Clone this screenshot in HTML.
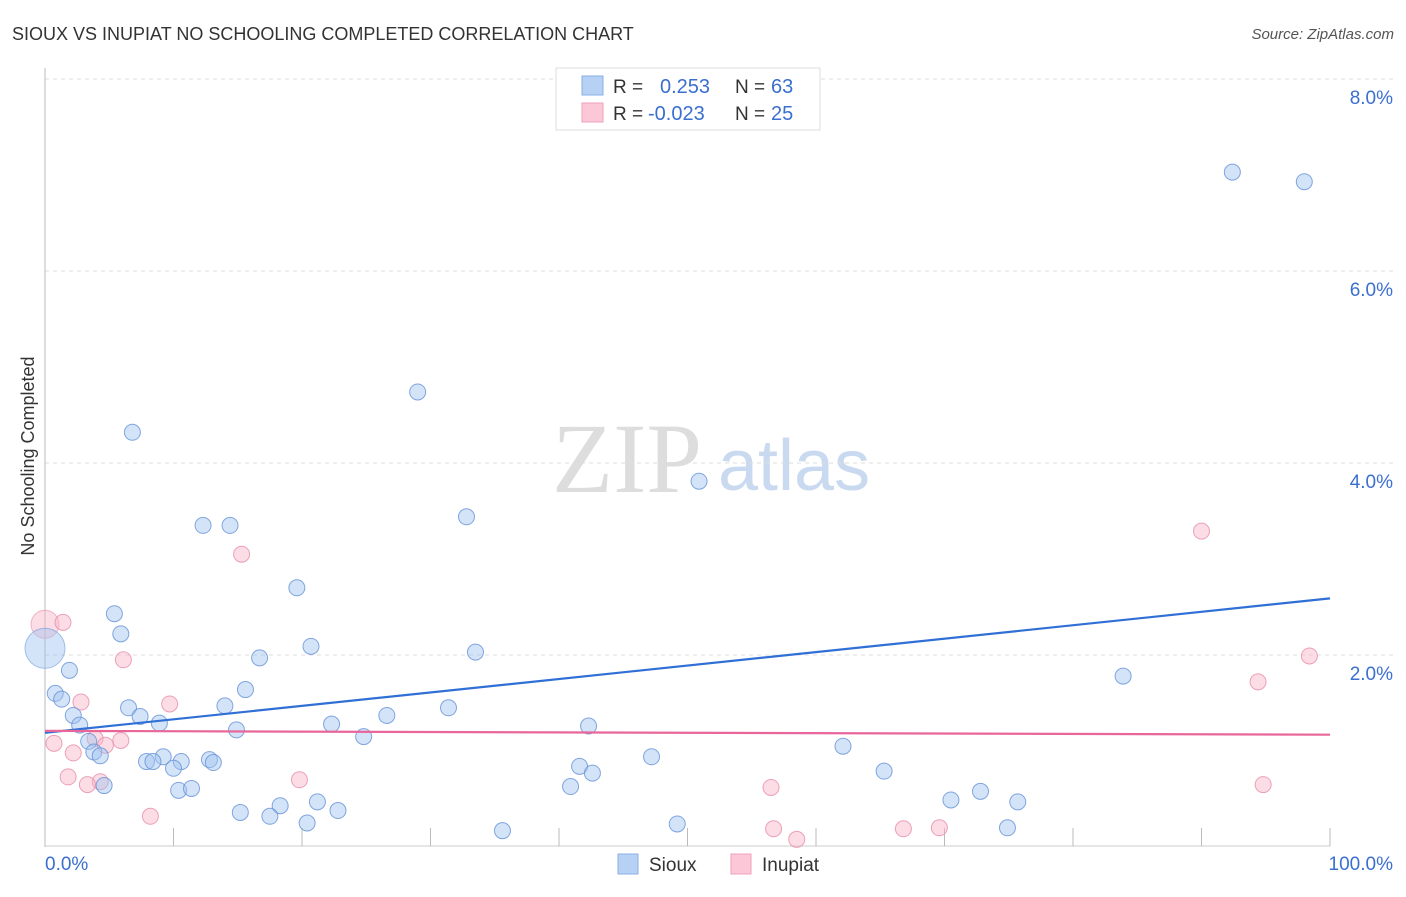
<!DOCTYPE html>
<html><head><meta charset="utf-8"><style>
body{margin:0;background:#fff;font-family:"Liberation Sans",sans-serif;}
svg text{font-family:"Liberation Sans",sans-serif;}
</style></head><body>
<svg id="chart" width="1406" height="892" xmlns="http://www.w3.org/2000/svg">
<text x="12" y="40" font-size="18" fill="#333">SIOUX VS INUPIAT NO SCHOOLING COMPLETED CORRELATION CHART</text>
<text x="1394" y="39" font-size="15" fill="#555" font-style="italic" text-anchor="end">Source: ZipAtlas.com</text>
<text transform="translate(34,456) rotate(-90)" font-size="18" fill="#333" text-anchor="middle">No Schooling Completed</text>
<g><text x="552" y="492" font-size="100" style="font-family:'Liberation Serif',serif" fill="#ddd">ZIP</text><text x="718" y="490" font-size="72" fill="#c9daf0">atlas</text></g>
<g id="grid"></g><g id="axes"></g><g id="pts"></g><g id="lines"></g>
<g>
<rect x="556" y="68" width="264" height="62" fill="#fff" stroke="#ddd"/>
<rect x="582" y="76" width="21" height="19" fill="#b7d1f5" stroke="#88aee6"/>
<rect x="582" y="103" width="21" height="19" fill="#fcc8d8" stroke="#f0a0b8"/>
<text x="613" y="93" font-size="19" fill="#333">R =</text><text x="660" y="93" font-size="20" fill="#3a6fd0">0.253</text>
<text x="735" y="93" font-size="19" fill="#333">N =</text><text x="771" y="93" font-size="20" fill="#3a6fd0">63</text>
<text x="613" y="120" font-size="19" fill="#333">R =</text><text x="648" y="120" font-size="20" fill="#3a6fd0">-0.023</text>
<text x="735" y="120" font-size="19" fill="#333">N =</text><text x="771" y="120" font-size="20" fill="#3a6fd0">25</text>
</g>
<g>
<rect x="618" y="854" width="20" height="20" fill="#b7d1f5" stroke="#88aee6"/><text x="649" y="871" font-size="19" fill="#333">Sioux</text>
<rect x="731" y="854" width="20" height="20" fill="#fcc8d8" stroke="#f0a0b8"/><text x="762" y="871" font-size="19" fill="#333">Inupiat</text>
</g>
</svg>
<script>
const siouxX=[92.4,98.0,29.0,6.8,50.9,32.8,12.3,14.4,19.6,5.4,5.9,20.7,33.5,16.7,1.9,83.9,15.6,0.8,1.3,14.0,6.5,31.4,2.2,7.4,26.6,8.9,2.7,22.3,42.3,14.9,24.8,3.4,62.1,3.8,4.3,47.2,9.2,7.9,8.4,12.8,10.6,13.1,10.0,41.6,42.6,65.3,4.6,10.4,11.4,40.9,72.8,70.5,75.7,21.2,18.3,15.2,22.8,17.5,20.4,49.2,74.9,35.6];
const siouxY=[7.03,6.93,4.74,4.32,3.81,3.44,3.35,3.35,2.70,2.43,2.22,2.09,2.03,1.97,1.84,1.78,1.64,1.60,1.54,1.47,1.45,1.45,1.37,1.36,1.37,1.29,1.27,1.28,1.26,1.22,1.15,1.10,1.05,0.99,0.95,0.94,0.94,0.89,0.89,0.91,0.89,0.88,0.82,0.84,0.77,0.79,0.64,0.59,0.61,0.63,0.58,0.49,0.47,0.47,0.43,0.36,0.38,0.32,0.25,0.24,0.20,0.17];
const inupiatX=[1.4,15.3,6.1,90.0,98.4,94.4,2.8,9.7,5.9,3.9,4.7,0.7,2.2,19.8,1.8,4.3,3.3,56.5,94.8,8.2,56.7,66.8,69.6,58.5];
const inupiatY=[2.34,3.05,1.95,3.29,1.99,1.72,1.51,1.49,1.11,1.13,1.06,1.08,0.98,0.70,0.73,0.68,0.65,0.62,0.65,0.32,0.19,0.19,0.20,0.08];
const bigSioux=[0,2.07], bigInupiat=[0,2.32];
const siouxTrend=[1.19,2.59], inupiatTrend=[1.21,1.17];
const yTicks=[2,4,6,8], yTickLabels=["2.0%","4.0%","6.0%","8.0%"];
const xTicks=[0,10,20,30,40,50,60,70,80,90,100];
const xs=v=>45+v*12.85, ys=v=>847-v*96;
const NS="http://www.w3.org/2000/svg";
function mk(p,t,a){const e=document.createElementNS(NS,t);for(const k in a)e.setAttribute(k,a[k]);p.appendChild(e);return e;}
const grid=document.getElementById('grid'),axes=document.getElementById('axes'),lines=document.getElementById('lines'),pts=document.getElementById('pts');
yTicks.forEach((v,i)=>{
 const l=mk(grid,'line',{x1:45,x2:1394,y1:ys(v),y2:ys(v),stroke:'#ddd','stroke-dasharray':'4,4'});
 
 
 const t=mk(axes,'text',{x:1393,y:ys(v)+25,'font-size':19,fill:'#3a6fd0','text-anchor':'end'});t.textContent=yTickLabels[i];
 
 
});
const ax=mk(axes,'line',{x1:45,x2:45,y1:68,y2:847,stroke:'#bbb'});


const bx=mk(axes,'line',{x1:45,x2:1330,y1:846,y2:846,stroke:'#ccc'});


xTicks.forEach(v=>{const t=mk(axes,'line',{x1:xs(v),x2:xs(v),y1:828,y2:846,stroke:'#bbb'});
 
 });
const x0=mk(axes,'text',{x:45,y:870,'font-size':19,fill:'#3a6fd0'});x0.textContent='0.0%';


const x1=mk(axes,'text',{x:1393,y:870,'font-size':19,fill:'#3a6fd0','text-anchor':'end'});x1.textContent='100.0%';


function dot(x,y,r,fill,stroke,name){const c=mk(pts,'circle',{cx:xs(x),cy:ys(y),r:r,fill:fill,stroke:stroke,'stroke-width':1});
 
 }
dot(bigInupiat[0],bigInupiat[1],14,'rgba(248,180,200,0.45)','rgba(230,140,170,0.6)','inupiat-point-large');
dot(bigSioux[0],bigSioux[1],20,'rgba(160,195,240,0.45)','rgba(110,155,220,0.6)','sioux-point-large');
inupiatX.forEach((x,i)=>dot(x,inupiatY[i],8,'rgba(248,180,200,0.45)','rgba(230,140,170,0.8)','inupiat-point'));
siouxX.forEach((x,i)=>dot(x,siouxY[i],8,'rgba(160,195,240,0.45)','rgba(100,145,215,0.8)','sioux-point'));
const sl=mk(lines,'line',{x1:xs(0),y1:ys(siouxTrend[0]),x2:xs(100),y2:ys(siouxTrend[1]),stroke:'#2f6fd6','stroke-width':2.2});


const il=mk(lines,'line',{x1:xs(0),y1:ys(inupiatTrend[0]),x2:xs(100),y2:ys(inupiatTrend[1]),stroke:'#e8669a','stroke-width':2.2});


</script>
</body></html>
